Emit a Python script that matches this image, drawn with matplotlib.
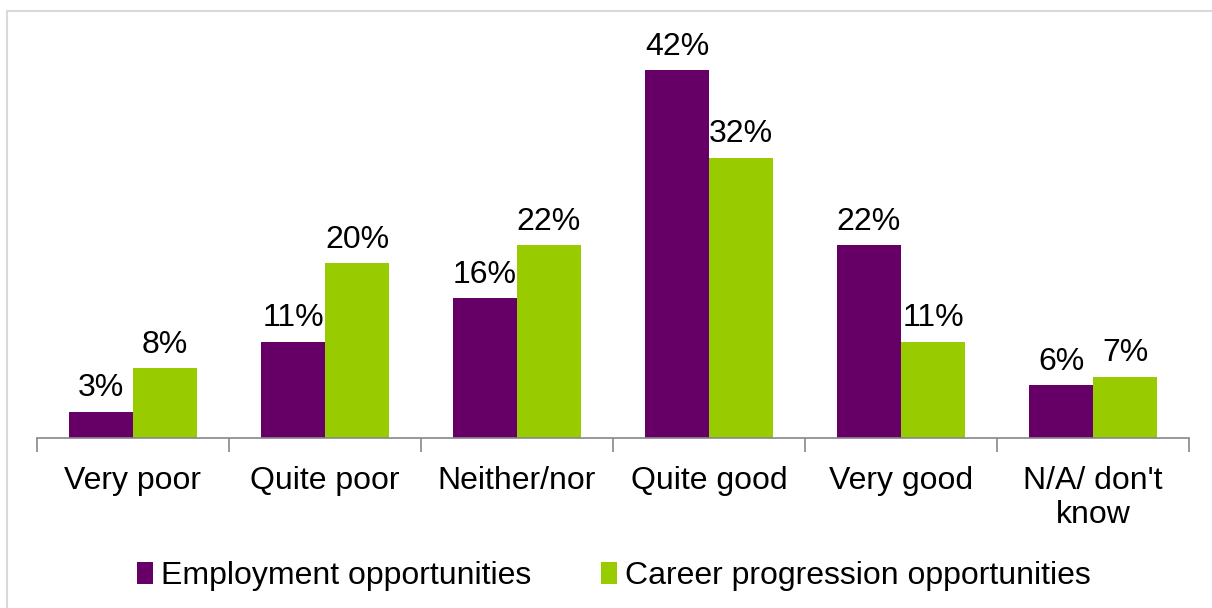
import numpy as np
import matplotlib
matplotlib.use("Agg")
import matplotlib.pyplot as plt
from matplotlib.patches import Rectangle

categories = ["Very poor", "Quite poor", "Neither/nor", "Quite good", "Very good", "N/A/ don't\nknow"]
employment = [3, 11, 16, 42, 22, 6]
career = [8, 20, 22, 32, 11, 7]
series_names = ["Employment opportunities", "Career progression opportunities"]

plt.rcParams['font.family'] = ['Liberation Sans', 'DejaVu Sans']

W, H = 1212, 608
fig = plt.figure(figsize=(W / 100, H / 100), dpi=100)

# light grey frame round the chart area
fig.patches.append(Rectangle((7 / W, -0.1), 1.2, 1 - 11 / H + 0.1, transform=fig.transFigure,
                             fill=False, edgecolor='#d9d9d9', linewidth=1.5))

ax = fig.add_axes([37 / W, 1 - 438 / H, 1152 / W, 394 / H])
x = np.arange(len(categories))
w = 1 / 3
b1 = ax.bar(x - w / 2, employment, w, color='#660066', label=series_names[0])
b2 = ax.bar(x + w / 2, career, w, color='#99cc00', label=series_names[1])

for bars, vals in [(b1, employment), (b2, career)]:
    for r, v in zip(bars, vals):
        ax.annotate("{0}%".format(v), (r.get_x() + r.get_width() / 2, v),
                    xytext=(0, 6), textcoords='offset points',
                    ha='center', va='bottom', fontsize=23)

ax.set_xlim(-0.5, len(categories) - 0.5)
ax.set_ylim(0, 45)
ax.set_yticks([])
for s in ['top', 'right', 'left']:
    ax.spines[s].set_visible(False)
ax.spines['bottom'].set_color('#888888')
ax.spines['bottom'].set_linewidth(1.2)

ax.set_xticks(x)
ax.set_xticklabels(categories, fontsize=23, linespacing=1.2, va='top')
ax.tick_params(axis='x', length=0, pad=20)
# tick marks between categories
ax.set_xticks(np.arange(len(categories) + 1) - 0.5, minor=True)
ax.tick_params(axis='x', which='minor', length=10, width=1.2, color='#888888', direction='out')

fig.legend(loc='center', bbox_to_anchor=(614 / W, 1 - 576 / H), ncol=2, frameon=False,
           fontsize=23, handlelength=0.5, handleheight=0.7, handletextpad=0.25,
           columnspacing=2.2, borderpad=0)

fig.savefig("out.png", dpi=100)
